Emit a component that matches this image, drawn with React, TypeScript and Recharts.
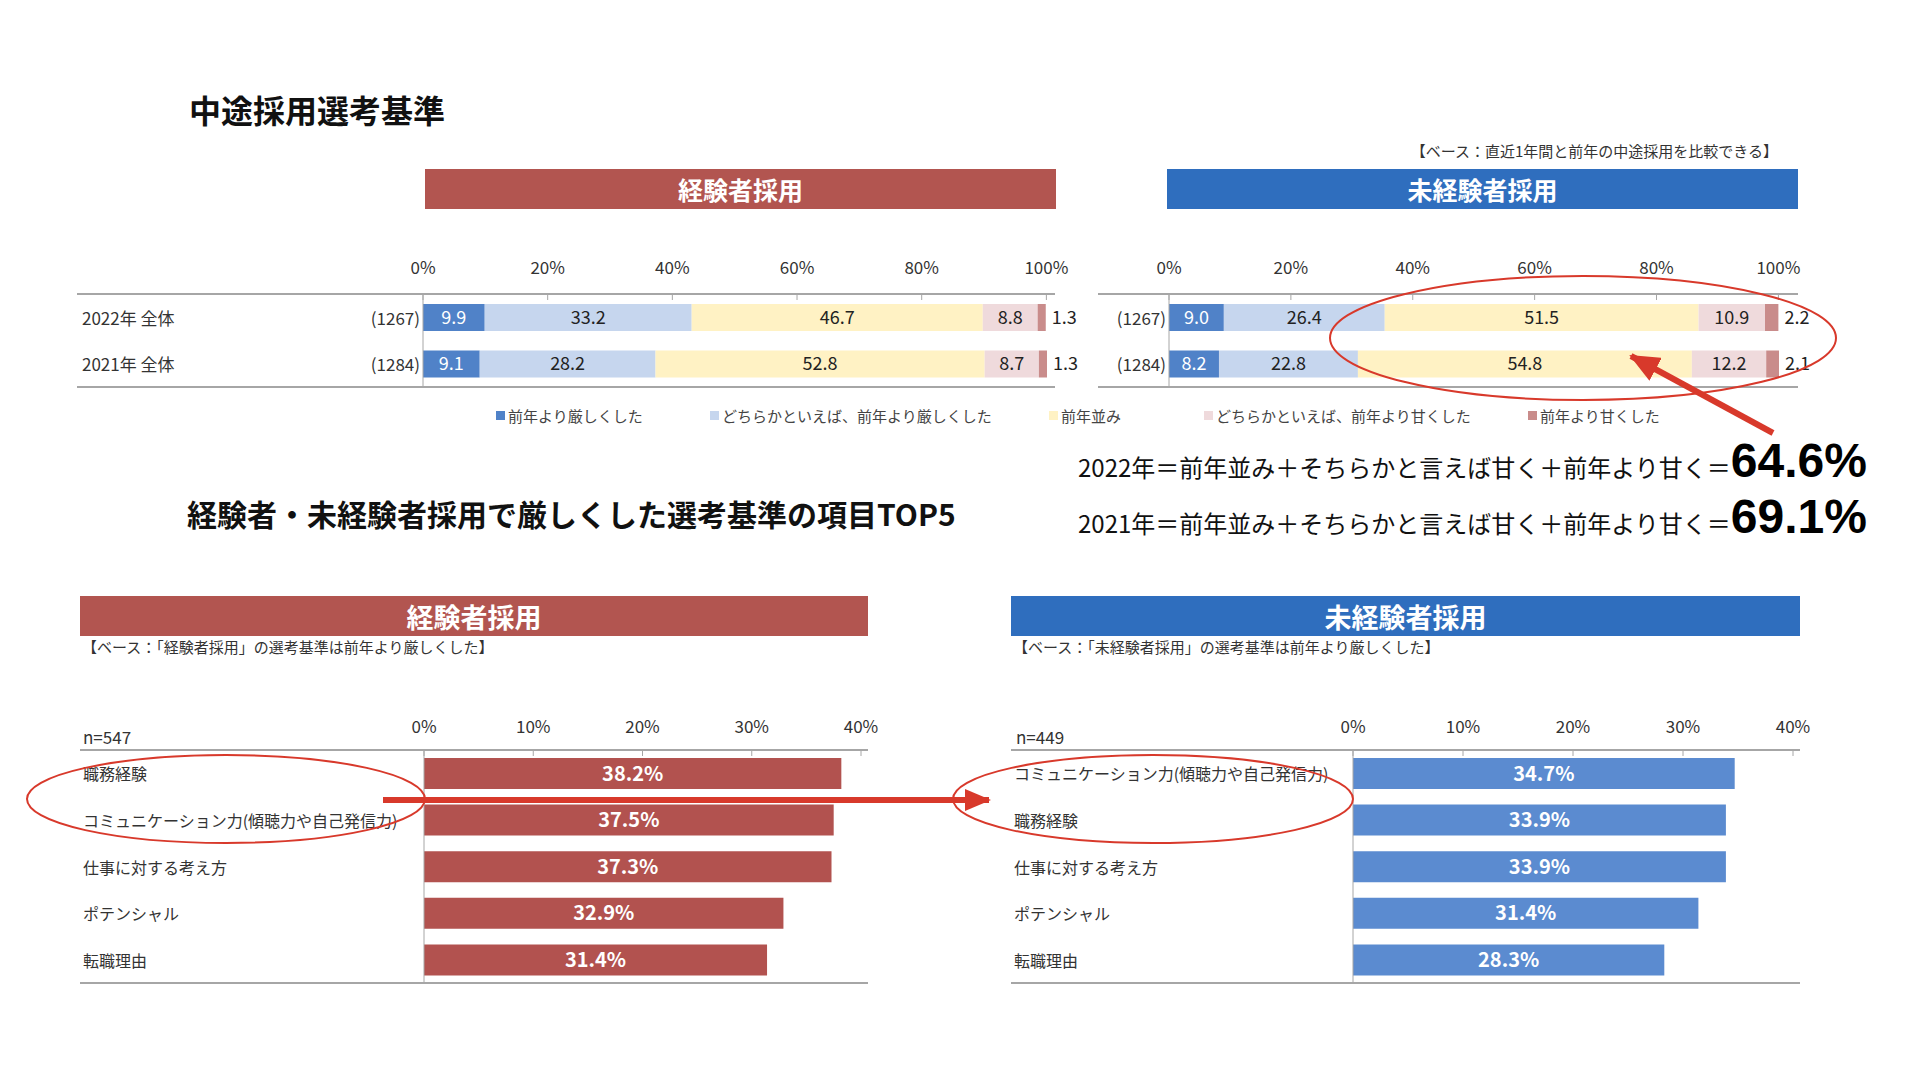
import React from 'react'
import { BarChart, Bar, XAxis, YAxis, LabelList } from 'recharts'

const FONT = "'Noto Sans CJK JP', 'Noto Sans', sans-serif"

// 上段：選考基準の変化（2022 / 2021）
const rowLabels = ['2022年 全体', '2021年 全体']
const rowCounts = ['(1267)', '(1284)']
const seriesNames = [
  '前年より厳しくした',
  'どちらかといえば、前年より厳しくした',
  '前年並み',
  'どちらかといえば、前年より甘くした',
  '前年より甘くした',
]
const seriesColors = ['#5082C8', '#C6D6EE', '#FFF2C4', '#EFDADC', '#C98C8B']
const expRow2022 = [9.9, 33.2, 46.7, 8.8, 1.3]
const expRow2021 = [9.1, 28.2, 52.8, 8.7, 1.3]
const newRow2022 = [9.0, 26.4, 51.5, 10.9, 2.2]
const newRow2021 = [8.2, 22.8, 54.8, 12.2, 2.1]
const topTicks = [0, 20, 40, 60, 80, 100]

// 下段：厳しくした選考基準 TOP5
const expItems = ['職務経験', 'コミュニケーション力(傾聴力や自己発信力)', '仕事に対する考え方', 'ポテンシャル', '転職理由']
const expPct = [38.2, 37.5, 37.3, 32.9, 31.4]
const newItems = ['コミュニケーション力(傾聴力や自己発信力)', '職務経験', '仕事に対する考え方', 'ポテンシャル', '転職理由']
const newPct = [34.7, 33.9, 33.9, 31.4, 28.3]
const bottomTicks = [0, 10, 20, 30, 40]

const legendLeft = [496, 710, 1049, 1204, 1528]

const buildStack = (rows: number[][]) =>
  rows.map((vals, i) => {
    const row: any = { name: rowLabels[i], n: rowCounts[i] }
    vals.forEach((v, k) => { row['s' + k] = v })
    return row
  })

const buildTop5 = (items: string[], vals: number[]) => items.map((name, i) => ({ name, value: vals[i] }))

const LINE = '#A6A6A6'
const RED = '#D8392B'

const makeXTick = (axisY: number, lift: number, fontSize: number) => (props: any) => {
  const { x, payload } = props
  return (
    <g>
      <line x1={x} x2={x} y1={axisY} y2={axisY + 6} stroke={LINE} strokeWidth={1} />
      <text x={x} y={axisY - lift} textAnchor="middle" fontSize={fontSize} fill="#333" fontFamily={FONT}>
        {payload.value}%
      </text>
    </g>
  )
}

interface StackProps {
  data: any[]
  left: number
  width: number
  yWidth: number
  right: number
  showLabels: boolean
}

function StackChart({ data, left, width, yWidth, right, showLabels }: StackProps) {
  const xH = 44
  const yTick = (props: any) => {
    const { x, y, payload } = props
    const row = data.find(r => r.name === payload.value)
    return (
      <g fontFamily={FONT} fontSize={17} fill="#333">
        {showLabels && (
          <text x={5} y={y} dominantBaseline="central" textAnchor="start">{payload.value}</text>
        )}
        <text x={x} y={y} dominantBaseline="central" textAnchor="end">{row ? row.n : ''}</text>
      </g>
    )
  }
  return (
    <div style={{ position: 'absolute', left, top: 250 }}>
      <BarChart width={width} height={145} data={data} layout="vertical"
        margin={{ top: 0, right, bottom: 8, left: 0 }}>
        <XAxis type="number" orientation="top" domain={[0, 100]} ticks={topTicks} height={xH}
          axisLine={false} tickLine={false} tick={makeXTick(xH, 20, 17)} />
        <YAxis type="category" dataKey="name" width={yWidth} tickLine={false} tickSize={0} tickMargin={3}
          axisLine={{ stroke: LINE }} tick={yTick} />
        {seriesNames.map((nm, k) => (
          <Bar key={nm} dataKey={'s' + k} name={nm} stackId="a" fill={seriesColors[k]} barSize={27} isAnimationActive={false}>
            <LabelList dataKey={'s' + k} position={k === 4 ? 'right' : 'center'} offset={6}
              formatter={(v: any) => Number(v).toFixed(1)}
              fill={k === 0 ? '#fff' : '#222'} fontSize={18} fontFamily={FONT} />
          </Bar>
        ))}
      </BarChart>
    </div>
  )
}

interface Top5Props {
  data: any[]
  left: number
  yWidth: number
  right: number
  color: string
}

function Top5Chart({ data, left, yWidth, right, color }: Top5Props) {
  const xH = 50
  const yTick = (props: any) => {
    const { y, payload } = props
    return (
      <text x={3} y={y} dominantBaseline="central" textAnchor="start" fontSize={16} fill="#333" fontFamily={FONT}>
        {payload.value}
      </text>
    )
  }
  return (
    <div style={{ position: 'absolute', left, top: 700 }}>
      <BarChart width={800} height={292} data={data} layout="vertical"
        margin={{ top: 0, right, bottom: 9, left: 0 }}>
        <XAxis type="number" orientation="top" domain={[0, 40]} ticks={bottomTicks} height={xH}
          axisLine={false} tickLine={false} tick={makeXTick(xH, 17, 17)} />
        <YAxis type="category" dataKey="name" width={yWidth} tickLine={false} axisLine={{ stroke: LINE }} tick={yTick} />
        <Bar dataKey="value" fill={color} barSize={31} isAnimationActive={false}>
          <LabelList dataKey="value" position="center" formatter={(v: any) => `${Number(v).toFixed(1)}%`}
            fill="#fff" fontSize={20} fontWeight="bold" fontFamily={FONT} />
        </Bar>
      </BarChart>
    </div>
  )
}

const hLine = (left: number, top: number, width: number) => (
  <div style={{ position: 'absolute', left, top: top - 1, width, height: 2, background: LINE }} />
)

const header = (text: string, left: number, top: number, width: number, height: number, bg: string, fs: number) => (
  <div style={{
    position: 'absolute', left, top, width, height, background: bg, color: '#fff',
    fontSize: fs, fontWeight: 700, display: 'flex', alignItems: 'center', justifyContent: 'center',
  }}>{text}</div>
)

export default function App() {
  const expStack = buildStack([expRow2022, expRow2021])
  const newStack = buildStack([newRow2022, newRow2021])
  const expTop5 = buildTop5(expItems, expPct)
  const newTop5 = buildTop5(newItems, newPct)

  return (
    <div style={{ position: 'absolute', left: 0, top: 0, width: 1920, height: 1080, background: '#fff', fontFamily: FONT, color: '#111', overflow: 'hidden' }}>
      {/* タイトル */}
      <div style={{ position: 'absolute', left: 189, top: 89, fontSize: 32, fontWeight: 700, lineHeight: '40px' }}>中途採用選考基準</div>
      <div style={{ position: 'absolute', right: 142, top: 140, fontSize: 15, color: '#333', whiteSpace: 'nowrap' }}>【ベース：直近1年間と前年の中途採用を比較できる】</div>

      {header('経験者採用', 425, 169, 631, 40, '#B25550', 25)}
      {header('未経験者採用', 1167, 169, 631, 40, '#2F6EBE', 25)}

      {/* 上段グラフ */}
      {hLine(77, 294, 978)}
      {hLine(77, 387, 978)}
      {hLine(1098, 294, 700)}
      {hLine(1098, 387, 700)}
      <StackChart data={expStack} left={77} width={1030} yWidth={346} right={60} showLabels={true} />
      <StackChart data={newStack} left={1098} width={732} yWidth={71} right={51} showLabels={false} />

      {/* 凡例 */}
      {seriesNames.map((nm, k) => (
        <div key={nm} style={{ position: 'absolute', left: legendLeft[k], top: 405, display: 'flex', alignItems: 'center', fontSize: 15, color: '#444', whiteSpace: 'nowrap' }}>
          <span style={{ display: 'inline-block', width: 9, height: 9, background: seriesColors[k], marginRight: 3 }} />
          {nm}
        </div>
      ))}

      {/* 計算式 */}
      {[['2022年＝前年並み＋そちらかと言えば甘く＋前年より甘く＝', '64.6%', 437], ['2021年＝前年並み＋そちらかと言えば甘く＋前年より甘く＝', '69.1%', 493]].map(([t, v, top]) => (
        <div key={t as string} style={{ position: 'absolute', left: 1078, top: top as number, display: 'flex', alignItems: 'baseline', whiteSpace: 'nowrap', lineHeight: 1 }}>
          <span style={{ fontSize: 24, color: '#111' }}>{t}</span>
          <span style={{ fontSize: 48, fontWeight: 700, fontFamily: "'Liberation Sans', Arial, sans-serif", color: '#000' }}>{v}</span>
        </div>
      ))}

      <div style={{ position: 'absolute', left: 187, top: 493, fontSize: 30, fontWeight: 700, lineHeight: '40px', whiteSpace: 'nowrap' }}>経験者・未経験者採用で厳しくした選考基準の項目TOP5</div>

      {/* 下段 */}
      {header('経験者採用', 80, 596, 788, 40, '#B25550', 27)}
      {header('未経験者採用', 1011, 596, 789, 40, '#2F6EBE', 27)}
      <div style={{ position: 'absolute', left: 82, top: 636, fontSize: 15, color: '#333', whiteSpace: 'nowrap' }}>【ベース：「経験者採用」の選考基準は前年より厳しくした】</div>
      <div style={{ position: 'absolute', left: 1013, top: 636, fontSize: 15, color: '#333', whiteSpace: 'nowrap' }}>【ベース：「未経験者採用」の選考基準は前年より厳しくした】</div>
      <div style={{ position: 'absolute', left: 83, top: 725, fontSize: 17, color: '#333', lineHeight: '24px' }}>n=547</div>
      <div style={{ position: 'absolute', left: 1016, top: 725, fontSize: 17, color: '#333', lineHeight: '24px' }}>n=449</div>

      {hLine(80, 750, 788)}
      {hLine(80, 983, 788)}
      {hLine(1011, 750, 789)}
      {hLine(1011, 983, 789)}
      <Top5Chart data={expTop5} left={80} yWidth={344} right={19} color="#B2524F" />
      <Top5Chart data={newTop5} left={1011} yWidth={342} right={18} color="#5B8BD0" />

      {/* 注釈 */}
      <svg width={1920} height={1080} style={{ position: 'absolute', left: 0, top: 0, pointerEvents: 'none' }}>
        <defs>
          <marker id="ahTop" markerWidth="30" markerHeight="26" refX="28" refY="13" orient="auto" markerUnits="userSpaceOnUse">
            <path d="M0,0 L30,13 L0,26 Z" fill={RED} />
          </marker>
          <marker id="ahBottom" markerWidth="26" markerHeight="22" refX="24" refY="11" orient="auto" markerUnits="userSpaceOnUse">
            <path d="M0,0 L26,11 L0,22 Z" fill={RED} />
          </marker>
        </defs>
        <ellipse cx={1583} cy={338} rx={253} ry={62} fill="none" stroke={RED} strokeWidth={2} />
        <line x1={1773} y1={433} x2={1631} y2={356} stroke={RED} strokeWidth={6} markerEnd="url(#ahTop)" />
        <ellipse cx={226} cy={799} rx={199} ry={44} fill="none" stroke={RED} strokeWidth={2} />
        <ellipse cx={1153} cy={799} rx={200} ry={44} fill="none" stroke={RED} strokeWidth={2} />
        <line x1={383} y1={800} x2={989} y2={800} stroke={RED} strokeWidth={6} markerEnd="url(#ahBottom)" />
      </svg>
    </div>
  )
}
